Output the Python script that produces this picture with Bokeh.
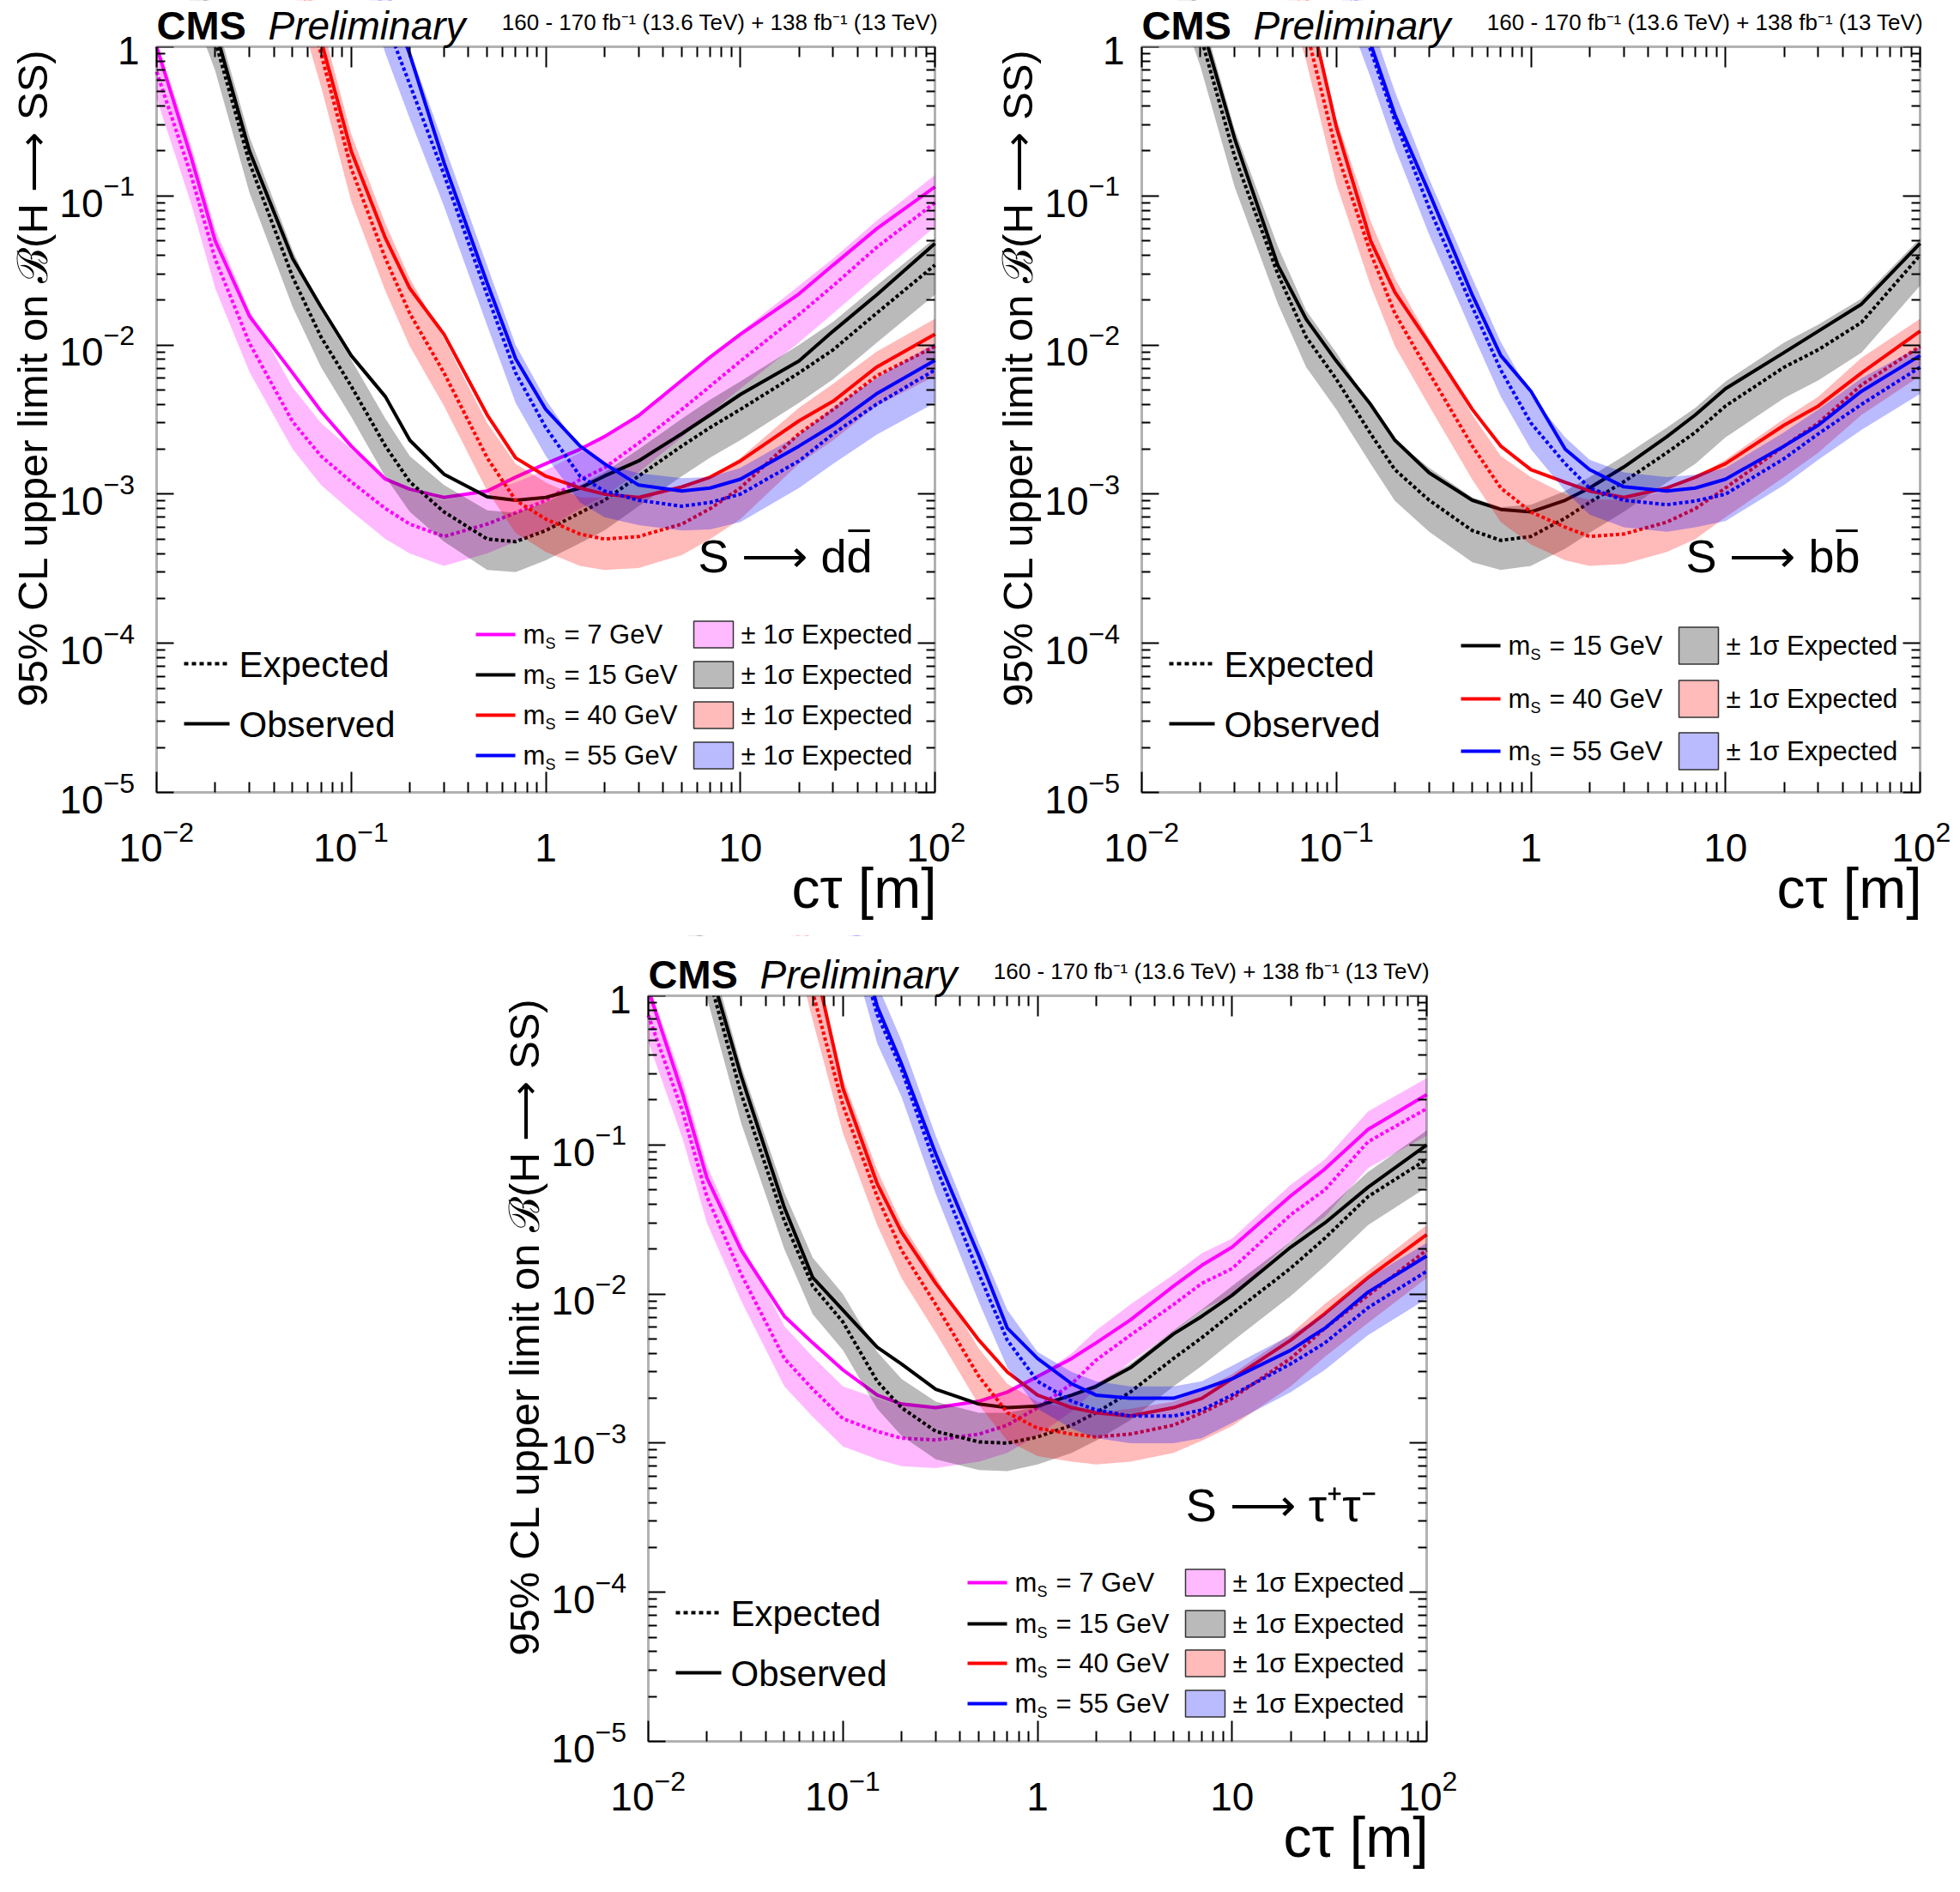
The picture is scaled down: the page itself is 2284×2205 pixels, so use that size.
import math
from bokeh.plotting import figure
from bokeh.models import (FixedTicker, LogAxis, Label, BoxAnnotation, Spacer,
                          CustomJSTickFormatter)
from bokeh.layouts import row, column
from bokeh.embed import file_html
from bokeh.resources import INLINE

# ===== DATA ==========================================
CTAU = [0.01, 0.015, 0.02, 0.03, 0.05, 0.07, 0.1, 0.15, 0.2, 0.3, 0.5, 0.7,
        1, 1.5, 2, 3, 5, 7, 10, 20, 30, 50, 100]

# S -> d dbar
DD_OBS_7 = [1.0, 0.184, 0.050, 0.0156, 0.0065, 0.0036, 0.0021, 0.00126, 0.00108, 0.00095, 0.00105, 0.0013,
            0.0016, 0.0020, 0.00243, 0.00336, 0.0058, 0.0083, 0.0118, 0.022, 0.0344, 0.060, 0.115]
DD_EXP_7 = [0.68, 0.139, 0.0378, 0.0103, 0.00306, 0.0018, 0.00121, 0.0008, 0.00063, 0.00052, 0.00063, 0.00075,
            0.00091, 0.00125, 0.0015, 0.0022, 0.0037, 0.0053, 0.0078, 0.016, 0.025, 0.045, 0.09]
DD_HI_7 = [1.1, 0.22, 0.06, 0.017, 0.0052, 0.003, 0.002, 0.0013, 0.00105, 0.00091, 0.00105, 0.0012,
           0.00145, 0.0019, 0.0024, 0.0035, 0.0058, 0.0083, 0.0122, 0.025, 0.038, 0.068, 0.138]
DD_LO_7 = [0.45, 0.09, 0.024, 0.0066, 0.0020, 0.00115, 0.00077, 0.0005, 0.0004, 0.00033, 0.0004, 0.00048,
           0.00058, 0.0008, 0.00097, 0.0014, 0.0024, 0.0035, 0.0051, 0.0104, 0.0163, 0.029, 0.062]

DD_OBS_15 = [20, 4, 1.3, 0.20, 0.038, 0.018, 0.0085, 0.0045, 0.0023, 0.00136, 0.00096, 0.00091,
             0.00095, 0.0011, 0.00132, 0.00167, 0.00254, 0.0034, 0.00466, 0.0078, 0.0124, 0.0216, 0.048]
DD_EXP_15 = [15, 3, 1.1, 0.167, 0.0286, 0.0113, 0.0053, 0.0021, 0.00121, 0.00076, 0.0005, 0.00048,
             0.00057, 0.00075, 0.00091, 0.00132, 0.0021, 0.0028, 0.0037, 0.0065, 0.0093, 0.0163, 0.0344]
DD_HI_15 = [22, 4.5, 1.6, 0.25, 0.043, 0.017, 0.008, 0.0032, 0.0018, 0.00115, 0.00078, 0.00075,
            0.00088, 0.00115, 0.0014, 0.002, 0.0032, 0.0043, 0.0057, 0.0100, 0.0143, 0.025, 0.052]
DD_LO_15 = [9, 1.9, 0.69, 0.105, 0.018, 0.0071, 0.0033, 0.0013, 0.00076, 0.00048, 0.00031, 0.0003,
            0.00036, 0.00047, 0.00057, 0.00083, 0.00132, 0.00176, 0.0023, 0.0041, 0.0059, 0.0103, 0.0217]

DD_OBS_40 = [400, 150, 60, 15, 5.5, 1.1, 0.20, 0.052, 0.024, 0.0118, 0.0034, 0.00175,
             0.00132, 0.0011, 0.0010, 0.00095, 0.00112, 0.0013, 0.00167, 0.0031, 0.0042, 0.0071, 0.0118]
DD_EXP_40 = [300, 110, 45, 11, 4, 0.9, 0.153, 0.038, 0.0163, 0.0065, 0.00175, 0.00091,
             0.00068, 0.00054, 0.0005, 0.00052, 0.00063, 0.0008, 0.0011, 0.00254, 0.0037, 0.0062, 0.0098]
DD_HI_40 = [500, 180, 75, 18, 6.5, 1.5, 0.26, 0.065, 0.028, 0.011, 0.003, 0.0016,
            0.0012, 0.00095, 0.00095, 0.00095, 0.0011, 0.0013, 0.00175, 0.0038, 0.0055, 0.009, 0.015]
DD_LO_40 = [180, 65, 27, 6.6, 2.4, 0.54, 0.092, 0.023, 0.0098, 0.0039, 0.00105, 0.00055,
            0.00041, 0.00033, 0.00031, 0.00032, 0.00039, 0.0005, 0.00068, 0.0016, 0.0023, 0.0039, 0.0062]

DD_OBS_55 = [2000, 800, 300, 80, 20, 18, 15, 2.5, 0.89, 0.167, 0.026, 0.0081,
             0.0037, 0.0021, 0.0016, 0.00115, 0.00105, 0.0011, 0.00126, 0.0021, 0.0029, 0.0047, 0.0079]
DD_EXP_55 = [1500, 600, 220, 60, 15, 12, 10, 1.5, 0.56, 0.139, 0.0216, 0.0065,
             0.0028, 0.00132, 0.00105, 0.00091, 0.00083, 0.00088, 0.0010, 0.00167, 0.00254, 0.0040, 0.0068]
DD_HI_55 = [2500, 1000, 400, 100, 30, 20, 14, 2.5, 0.95, 0.22, 0.034, 0.01,
            0.0043, 0.002, 0.0016, 0.00138, 0.00128, 0.0013, 0.0015, 0.0025, 0.0038, 0.006, 0.0103]
DD_LO_55 = [800, 300, 120, 30, 8, 6, 5, 0.9, 0.33, 0.085, 0.0135, 0.0041,
            0.0018, 0.00088, 0.0007, 0.00062, 0.00057, 0.00058, 0.00065, 0.0011, 0.0016, 0.0025, 0.0041]

# S -> b bbar
BB_OBS_15 = [20, 4.5, 1.5, 0.243, 0.0344, 0.0149, 0.0078, 0.0040, 0.0023, 0.00139, 0.00091, 0.00079,
             0.00076, 0.00091, 0.0011, 0.00152, 0.00243, 0.0034, 0.0051, 0.0089, 0.0124, 0.0188, 0.048]
BB_EXP_15 = [15, 3.5, 1.2, 0.184, 0.030, 0.0113, 0.0059, 0.00254, 0.00146, 0.00091, 0.00057, 0.00049,
             0.00052, 0.00069, 0.00088, 0.00121, 0.0019, 0.0026, 0.0039, 0.0071, 0.0093, 0.0142, 0.040]
BB_HI_15 = [22, 5, 1.8, 0.28, 0.046, 0.017, 0.0089, 0.0039, 0.0023, 0.0015, 0.00095, 0.00082,
            0.00085, 0.00105, 0.0013, 0.0018, 0.0028, 0.0038, 0.0057, 0.0104, 0.0137, 0.0205, 0.052]
BB_LO_15 = [9, 2.2, 0.74, 0.115, 0.019, 0.0071, 0.0037, 0.0016, 0.0009, 0.00056, 0.00035, 0.00031,
            0.00033, 0.00043, 0.00055, 0.00076, 0.0012, 0.0016, 0.0024, 0.0044, 0.0058, 0.0089, 0.025]

BB_OBS_40 = [500, 200, 80, 20, 8, 2.2, 0.29, 0.050, 0.0226, 0.0103, 0.0037, 0.0021,
             0.00146, 0.0012, 0.00105, 0.00095, 0.0011, 0.0013, 0.0016, 0.0029, 0.0039, 0.0065, 0.0124]
BB_EXP_40 = [400, 150, 60, 15, 6, 1.3, 0.20, 0.0415, 0.0163, 0.0065, 0.0021, 0.0011,
             0.00076, 0.0006, 0.00052, 0.00054, 0.00065, 0.0008, 0.0011, 0.0021, 0.0030, 0.0054, 0.0098]
BB_HI_40 = [600, 250, 100, 25, 9, 2.4, 0.33, 0.068, 0.028, 0.011, 0.0034, 0.0018,
            0.0013, 0.001, 0.00092, 0.00092, 0.00105, 0.0013, 0.0017, 0.0032, 0.0045, 0.0082, 0.015]
BB_LO_40 = [200, 80, 30, 8, 3.6, 0.8, 0.12, 0.025, 0.0098, 0.0039, 0.00125, 0.00065,
            0.00046, 0.00036, 0.00033, 0.00034, 0.00041, 0.0005, 0.0007, 0.0013, 0.0019, 0.0034, 0.0062]

BB_OBS_55 = [2000, 800, 300, 80, 25, 10, 5, 1.05, 0.35, 0.105, 0.0216, 0.0085,
             0.0049, 0.0020, 0.00146, 0.00112, 0.00105, 0.0011, 0.00126, 0.0021, 0.0029, 0.0049, 0.0085]
BB_EXP_55 = [1500, 600, 220, 60, 20, 8, 4, 0.95, 0.32, 0.083, 0.018, 0.0068,
             0.0030, 0.0016, 0.0011, 0.00091, 0.00085, 0.0009, 0.0010, 0.00173, 0.00254, 0.0040, 0.0071]
BB_HI_55 = [2500, 1000, 400, 100, 30, 12, 6, 1.5, 0.5, 0.13, 0.028, 0.0105,
            0.0046, 0.0024, 0.0017, 0.0014, 0.0013, 0.00135, 0.0015, 0.0026, 0.0037, 0.006, 0.0098]
BB_LO_55 = [800, 300, 120, 30, 10, 5, 2.6, 0.62, 0.21, 0.055, 0.012, 0.0045,
            0.002, 0.00105, 0.00073, 0.0006, 0.00056, 0.0006, 0.00066, 0.00115, 0.0017, 0.0027, 0.0047]

# S -> tau+ tau-
TT_OBS_7 = [1.1, 0.22, 0.060, 0.0197, 0.0071, 0.0047, 0.0031, 0.0021, 0.00183, 0.00173, 0.00191, 0.0022,
            0.0028, 0.0037, 0.0047, 0.0067, 0.0113, 0.0156, 0.0206, 0.0455, 0.069, 0.127, 0.217]
TT_EXP_7 = [0.74, 0.167, 0.045, 0.0136, 0.0037, 0.0023, 0.00146, 0.0012, 0.00108, 0.00105, 0.00115, 0.00132,
            0.00173, 0.0025, 0.0036, 0.0053, 0.0085, 0.0118, 0.0148, 0.034, 0.050, 0.105, 0.175]
TT_HI_7 = [1.2, 0.27, 0.073, 0.022, 0.0061, 0.0038, 0.0024, 0.0020, 0.00178, 0.00173, 0.0019, 0.0022,
           0.0028, 0.004, 0.0057, 0.0085, 0.0135, 0.0188, 0.0235, 0.054, 0.08, 0.168, 0.28]
TT_LO_7 = [0.49, 0.11, 0.03, 0.009, 0.0024, 0.0015, 0.00095, 0.00078, 0.0007, 0.00068, 0.00075, 0.00086,
           0.00113, 0.00163, 0.0023, 0.0035, 0.0056, 0.0078, 0.0098, 0.0225, 0.033, 0.07, 0.115]

TT_OBS_15 = [30, 6, 1.8, 0.29, 0.038, 0.0129, 0.0078, 0.0044, 0.0034, 0.0023, 0.00183, 0.00173,
             0.00177, 0.0021, 0.0024, 0.0032, 0.0054, 0.0071, 0.0098, 0.0206, 0.030, 0.052, 0.10]
TT_EXP_15 = [25, 5, 1.5, 0.22, 0.031, 0.0113, 0.0065, 0.0026, 0.00173, 0.0012, 0.00102, 0.001,
             0.0011, 0.00132, 0.0016, 0.0022, 0.0037, 0.0051, 0.0074, 0.0149, 0.0237, 0.045, 0.08]
TT_HI_15 = [38, 7.5, 2.3, 0.34, 0.048, 0.0175, 0.01, 0.0041, 0.0027, 0.0019, 0.0016, 0.0016,
            0.00175, 0.0021, 0.0025, 0.0034, 0.0057, 0.0079, 0.0113, 0.0225, 0.036, 0.066, 0.125]
TT_LO_15 = [16, 3.2, 0.97, 0.14, 0.020, 0.0073, 0.0042, 0.0017, 0.00112, 0.00078, 0.00066, 0.00065,
            0.00072, 0.00086, 0.00104, 0.00143, 0.0024, 0.0033, 0.0048, 0.0097, 0.0154, 0.029, 0.052]

TT_OBS_40 = [500, 200, 80, 20, 8, 1.9, 0.24, 0.055, 0.026, 0.0118, 0.0049, 0.0030,
             0.0021, 0.00173, 0.0016, 0.00152, 0.00173, 0.0020, 0.0027, 0.0049, 0.0074, 0.0129, 0.025]
TT_EXP_40 = [400, 150, 60, 15, 6, 1.05, 0.184, 0.045, 0.0197, 0.0085, 0.0028, 0.0016,
             0.00126, 0.00115, 0.0011, 0.00115, 0.00132, 0.0016, 0.0020, 0.0037, 0.0059, 0.0098, 0.0197]
TT_HI_40 = [600, 250, 100, 25, 9, 1.9, 0.28, 0.068, 0.03, 0.013, 0.0043, 0.0025,
            0.0019, 0.0017, 0.0016, 0.0017, 0.0019, 0.0023, 0.0029, 0.0054, 0.0086, 0.0143, 0.029]
TT_LO_40 = [200, 80, 30, 8, 3.9, 0.68, 0.12, 0.029, 0.0128, 0.0055, 0.0018, 0.00104,
            0.00082, 0.00075, 0.00072, 0.00075, 0.00086, 0.00104, 0.0013, 0.0024, 0.0038, 0.0064, 0.0128]

TT_OBS_55 = [2000, 800, 300, 80, 25, 12, 6, 0.85, 0.35, 0.087, 0.018, 0.0059,
             0.0037, 0.0025, 0.0021, 0.0020, 0.0020, 0.0023, 0.0027, 0.0042, 0.0059, 0.0103, 0.018]
TT_EXP_55 = [1500, 600, 220, 60, 20, 10, 5, 0.75, 0.32, 0.072, 0.0136, 0.0049,
             0.0026, 0.00191, 0.00167, 0.00152, 0.00152, 0.00167, 0.0021, 0.0034, 0.0047, 0.0081, 0.0142]
TT_HI_55 = [2500, 1000, 400, 100, 30, 15, 8, 1.2, 0.5, 0.115, 0.022, 0.0078,
            0.0041, 0.003, 0.0026, 0.0024, 0.0024, 0.0026, 0.0033, 0.0053, 0.0074, 0.0128, 0.022]
TT_LO_55 = [800, 300, 120, 30, 10, 6, 3.2, 0.48, 0.21, 0.047, 0.0088, 0.0032,
            0.0017, 0.00125, 0.00108, 0.001, 0.001, 0.00108, 0.00137, 0.0022, 0.0031, 0.0053, 0.0093]

MASS_COLORS = {7: "#ff00ff", 15: "#000000", 40: "#ff0000", 55: "#0000ff"}
X_TICKS = [(0.01, "10", "\u22122"), (0.1, "10", "\u22121"), (1, "1", ""), (10, "10", ""), (100, "10", "2")]
Y_TICKS = [(1e-5, "\u22125"), (1e-4, "\u22124"), (1e-3, "\u22123"), (1e-2, "\u22122"), (1e-1, "\u22121")]
LUMI = "160 - 170 fb\u207b\u00b9 (13.6 TeV) + 138 fb\u207b\u00b9 (13 TeV)"
X_LO, X_HI = 0.01, 100.0
Y_LO, Y_HI = 1e-5, 1.0

FONT = "Liberation Sans"
FW, FH = 907, 869          # inner frame size in px
LEFT = 174                 # inner frame offset from the figure's left edge
MID = 0.34                 # text centre above the baseline, in em
PAGE_MARGIN = 8


def make_panel(series, channel, bar, chan_x, width, height, top, rows_y, box_h):
    right = width - LEFT - FW
    bottom = height - top - FH
    dx = FW / math.log10(X_HI / X_LO)
    dy = FH / math.log10(Y_HI / Y_LO)
    # the canvas frame covers the whole figure; the ROOT-like frame is drawn inside
    p = figure(width=width, height=height, x_axis_type="log", y_axis_type="log",
               x_range=(X_LO * 10 ** (-LEFT / dx), X_HI * 10 ** (right / dx)),
               y_range=(Y_LO * 10 ** (-bottom / dy), Y_HI * 10 ** (top / dy)),
               x_axis_location=None, y_axis_location=None,
               output_backend="svg", toolbar_location=None, min_border=0)
    p.outline_line_color = None
    p.grid.visible = False
    p.background_fill_color = "white"
    p.border_fill_color = "white"

    def txt(x, y, text, size, align="left", style="normal",
            xu="screen", yu="screen", angle=0.0, xo=0, yo=0):
        # x / y give the text baseline; the label is placed by its middle
        shift = MID * size
        if angle:
            x = x - shift
        elif yu == "screen":
            y = y + shift
        else:
            yo = yo + shift
        if xu == "screen":
            x = LEFT + x
        if yu == "screen":
            y = bottom + y
        p.add_layout(Label(x=x, y=y, x_units=xu, y_units=yu, text=text,
                           text_font=FONT, text_font_size=f"{size}px",
                           text_font_style=style, text_align=align,
                           text_baseline="middle", angle=angle,
                           x_offset=xo, y_offset=yo, text_color="black"))

    def box(l, r, b, t, color, alpha=1.0, line_color=None):
        p.add_layout(BoxAnnotation(left=LEFT + l, right=LEFT + r,
                                   bottom=bottom + b, top=bottom + t,
                                   left_units="screen", right_units="screen",
                                   bottom_units="screen", top_units="screen",
                                   fill_color=color, fill_alpha=alpha,
                                   line_color=line_color, line_width=1.5,
                                   line_alpha=1.0 if line_color else 0))

    # bands, expected and observed for each mass
    for mass, obs, exp, lo, hi in series:
        col = MASS_COLORS[mass]
        p.varea(x=CTAU, y1=lo, y2=hi, fill_color=col, fill_alpha=0.27)
        p.line(CTAU, exp, line_color=col, line_width=4, line_dash="4 3")
        p.line(CTAU, obs, line_color=col, line_width=4)

    # hide everything above the frame top (curves leave through y = 1)
    p.add_layout(BoxAnnotation(left=1e-6, right=1e6, bottom=Y_HI, top=1e6,
                               fill_color="white", fill_alpha=1.0, line_alpha=0))
    # frame
    p.add_layout(BoxAnnotation(left=X_LO, right=X_HI, bottom=Y_LO, top=Y_HI,
                               fill_alpha=0, line_color="black", line_width=3))

    # ticks on all four sides, pointing inwards
    xt = FixedTicker(ticks=[t[0] for t in X_TICKS],
                     minor_ticks=[k * 10.0 ** e for e in range(-2, 2) for k in range(2, 10)])
    yt = FixedTicker(ticks=[10.0 ** e for e in range(-5, 1)],
                     minor_ticks=[k * 10.0 ** e for e in range(-5, 0) for k in range(2, 10)])
    for place, loc, ticker, tin, tmin in [("below", Y_LO, xt, 24, 12), ("above", Y_HI, xt, 24, 12),
                                          ("left", X_LO, yt, 20, 10), ("right", X_HI, yt, 20, 10)]:
        ax = LogAxis(ticker=ticker, fixed_location=loc,
                     formatter=CustomJSTickFormatter(code="return ''"),
                     major_tick_in=tin, major_tick_out=0,
                     minor_tick_in=tmin, minor_tick_out=0,
                     major_tick_line_width=2, minor_tick_line_width=2,
                     axis_line_color=None)
        p.add_layout(ax, place)

    # tick labels
    for val, base, sup in X_TICKS:
        if sup:
            off = 18 if sup == "2" else 7
            txt(val, -80, base, 46, align="right", xu="data", xo=off)
            txt(val, -57, sup, 32, align="left", xu="data", xo=off)
        else:
            txt(val, -80, base, 46, align="center", xu="data")
    for val, sup in Y_TICKS:
        txt(-62, val, "10", 46, align="right", yu="data", yo=-24)
        txt(-62, val, sup, 32, align="left", yu="data", yo=0)
    txt(-20, Y_HI, "1", 46, align="right", yu="data", yo=-20)

    # axis titles
    txt(FW + 2, -134, "c\u03c4 [m]", 66, align="right")
    txt(-128, FH - 2, "95% CL upper limit on \u212c(H \u27f6 SS)", 49,
        align="right", angle=math.pi / 2)

    # header
    txt(0, FH + 9, "CMS", 47, style="bold")
    txt(130, FH + 9, "Preliminary", 46, style="italic")
    txt(FW + 4, FH + 20, LUMI, 26, align="right")

    # decay channel, with an overline drawn on the last letter if needed
    size = 54
    txt(chan_x, 257, channel, size, align="right")
    if bar:
        box(chan_x - 0.52 * size, chan_x - 0.05 * size, 257 + 0.86 * size, 257 + 0.86 * size + 3, "black")

    # Expected / Observed legend
    for i in range(6):
        box(32 + 9 * i, 37 + 9 * i, 148, 152, "black")
    box(32, 85, 78, 82, "black")
    txt(96, 135, "Expected", 42)
    txt(96, 65, "Observed", 42)

    # mass legend
    for (mass, *_), y in zip(series, rows_y):
        col = MASS_COLORS[mass]
        box(372, 418, y - 2, y + 2, col)
        txt(427, y - 11, "m", 31)
        txt(453, y - 17, "S", 18)
        txt(475, y - 11, f"= {mass} GeV", 31)
        box(626, 672, y - box_h / 2, y + box_h / 2, col, 0.27, "#333333")
        txt(681, y - 11, "\u00b1 1\u03c3 Expected", 31)
    return p


DD = [(7, DD_OBS_7, DD_EXP_7, DD_LO_7, DD_HI_7),
      (15, DD_OBS_15, DD_EXP_15, DD_LO_15, DD_HI_15),
      (40, DD_OBS_40, DD_EXP_40, DD_LO_40, DD_HI_40),
      (55, DD_OBS_55, DD_EXP_55, DD_LO_55, DD_HI_55)]
BB = [(15, BB_OBS_15, BB_EXP_15, BB_LO_15, BB_HI_15),
      (40, BB_OBS_40, BB_EXP_40, BB_LO_40, BB_HI_40),
      (55, BB_OBS_55, BB_EXP_55, BB_LO_55, BB_HI_55)]
TT = [(7, TT_OBS_7, TT_EXP_7, TT_LO_7, TT_HI_7),
      (15, TT_OBS_15, TT_EXP_15, TT_LO_15, TT_HI_15),
      (40, TT_OBS_40, TT_EXP_40, TT_LO_40, TT_HI_40),
      (55, TT_OBS_55, TT_EXP_55, TT_LO_55, TT_HI_55)]

# top row starts at the page top (frame top at 54 px), bottom row below it (frame top at 1160 px)
p1 = make_panel(DD, "S \u27f6 dd", True, 834, 1148, 1090, 54, [184, 137, 90, 43], 31)
p2 = make_panel(BB, "S \u27f6 bb", True, 837, 1118, 1090, 54, [171, 109, 48], 43)
p3 = make_panel(TT, "S \u27f6 \u03c4\u207a\u03c4\u207b", False, 848, 1148, 1105, 70,
                [185, 137, 91, 44], 31)

layout = column(
    row(Spacer(width=PAGE_MARGIN, height=10), p1, p2),
    row(Spacer(width=PAGE_MARGIN + 573, height=10), p3),
)

with open("out.html", "w") as f:
    f.write(file_html(layout, INLINE))
